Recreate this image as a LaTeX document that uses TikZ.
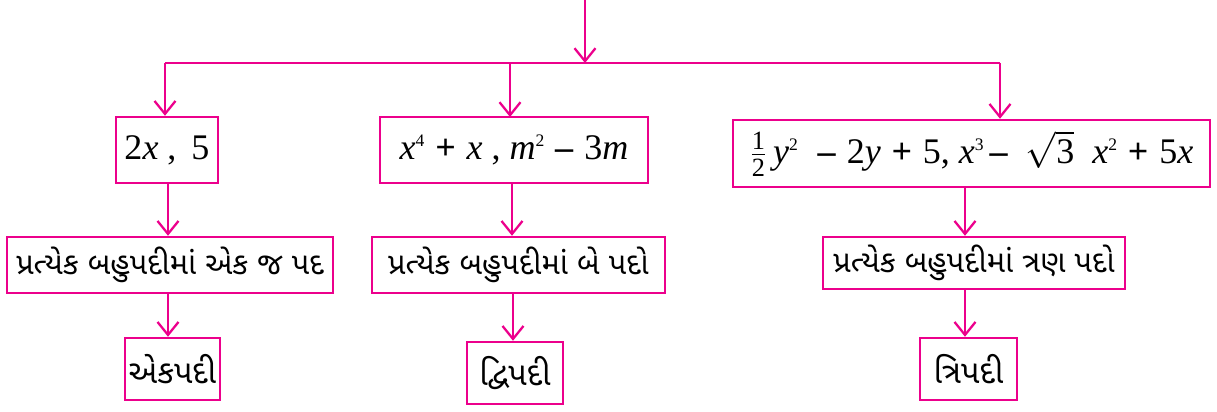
\documentclass[tikz,border=0pt]{standalone}
\usepackage{amsmath}
\usepackage{fontspec}
\setmainfont{Liberation Serif}
\newfontfamily\gujf[Script=Gujarati]{Noto Sans Gujarati UI}
\usepackage{tikz}
\usetikzlibrary{calc,arrows.meta,positioning}
\definecolor{magc}{HTML}{EC008C}
\newcommand{\vr}[1]{\textit{#1}}
\newcommand{\pw}[1]{\raisebox{0.8ex}{\fontsize{10}{10}\selectfont #1}}
\newcommand{\sm}[1]{\mbox{\fontsize{15}{15}\selectfont #1}}
\newcommand{\op}[1]{\hspace{0.3em}\textbf{#1}\hspace{0.3em}}
\tikzset{
  ar/.style={-{Straight Barb[length=2.6mm,width=4.2mm,line width=1.3pt]},line width=1.4pt,magc},
  box/.style={draw=magc,line width=1.4pt,fill=white,align=center,inner sep=2pt},
  mbox/.style={box,font=\fontsize{20.5}{22}\selectfont},
  gbox/.style={box,font=\gujf\fontsize{17.5}{20}\selectfont},
  nbox/.style={box,font=\gujf\fontsize{18.5}{20}\selectfont}
}
\begin{document}
\begin{tikzpicture}[x=0.02cm,y=-0.02cm]
\useasboundingbox (0,0) rectangle (1217,412);
% top row: examples
\node[mbox,minimum width=102*0.02cm,minimum height=66*0.02cm] (ex1) at (167,150) {2\vr{x} , \,5};
\node[mbox,minimum width=268*0.02cm,minimum height=66*0.02cm] (ex2) at (514,150) {\vr{x}\pw{4}\op{+}\vr{x} , \vr{m}\pw{2}\op{–}3\vr{m}};
\node[mbox,minimum width=477*0.02cm,minimum height=67*0.02cm] (ex3) at (971.5,153.5) {$\frac{\sm{1}}{\sm{2}}$\,\vr{y}\pw{2} \op{–}2\vr{y}\op{+}5, \vr{x}\pw{3}\,\textbf{–} \ $\sqrt{\text{3}}$ \ \vr{x}\pw{2}\op{+}5\vr{x}};
% middle row
\node[gbox,minimum width=326*0.02cm,minimum height=56*0.02cm] (nt1) at (170,265) {પ્રત્યેક બહુપદીમાં એક જ પદ};
\node[gbox,minimum width=293*0.02cm,minimum height=56*0.02cm] (nt2) at (518.5,265) {પ્રત્યેક બહુપદીમાં બે પદો};
\node[gbox,minimum width=302*0.02cm,minimum height=52*0.02cm] (nt3) at (974,263) {પ્રત્યેક બહુપદીમાં ત્રણ પદો};
% bottom row
\node[nbox,minimum width=95*0.02cm,minimum height=62*0.02cm] (nm1) at (172.5,369) {એકપદી};
\node[nbox,minimum width=96*0.02cm,minimum height=62*0.02cm] (nm2) at (515,373) {દ્વિપદી};
\node[nbox,minimum width=97*0.02cm,minimum height=62*0.02cm] (nm3) at (968.5,369) {ત્રિપદી};
% branching
\coordinate (top) at (585,0);
\coordinate (hl) at (165,63);
\coordinate (hr) at (1000,63);
\draw[ar] (top) -- (top |- hl);
\draw[line width=1.4pt,magc] (hl) -- (hr);
\draw[ar] (hl) -- (hl |- ex1.north);
\draw[ar] (ex2.north |- hl) ++(-4,0) -- ++(0,54);
\draw[ar] (hr) -- (hr |- ex3.north);
% down the columns
\draw[ar] ($(ex1.south)+(1,0)$) -- ($(ex1.south |- nt1.north)+(1,0)$);
\draw[ar] ($(ex2.south)+(-2,0)$) -- ($(ex2.south |- nt2.north)+(-2,0)$);
\draw[ar] ($(ex3.south)+(-6.5,0)$) -- ($(ex3.south |- nt3.north)+(-6.5,0)$);
\draw[ar] ($(nt1.south)+(-2,0)$) -- ($(nt1.south |- nm1.north)+(-2,0)$);
\draw[ar] ($(nt2.south)+(-5.5,0)$) -- ($(nt2.south |- nm2.north)+(-5.5,0)$);
\draw[ar] ($(nt3.south)+(-9,0)$) -- ($(nt3.south |- nm3.north)+(-9,0)$);
\end{tikzpicture}
\end{document}
